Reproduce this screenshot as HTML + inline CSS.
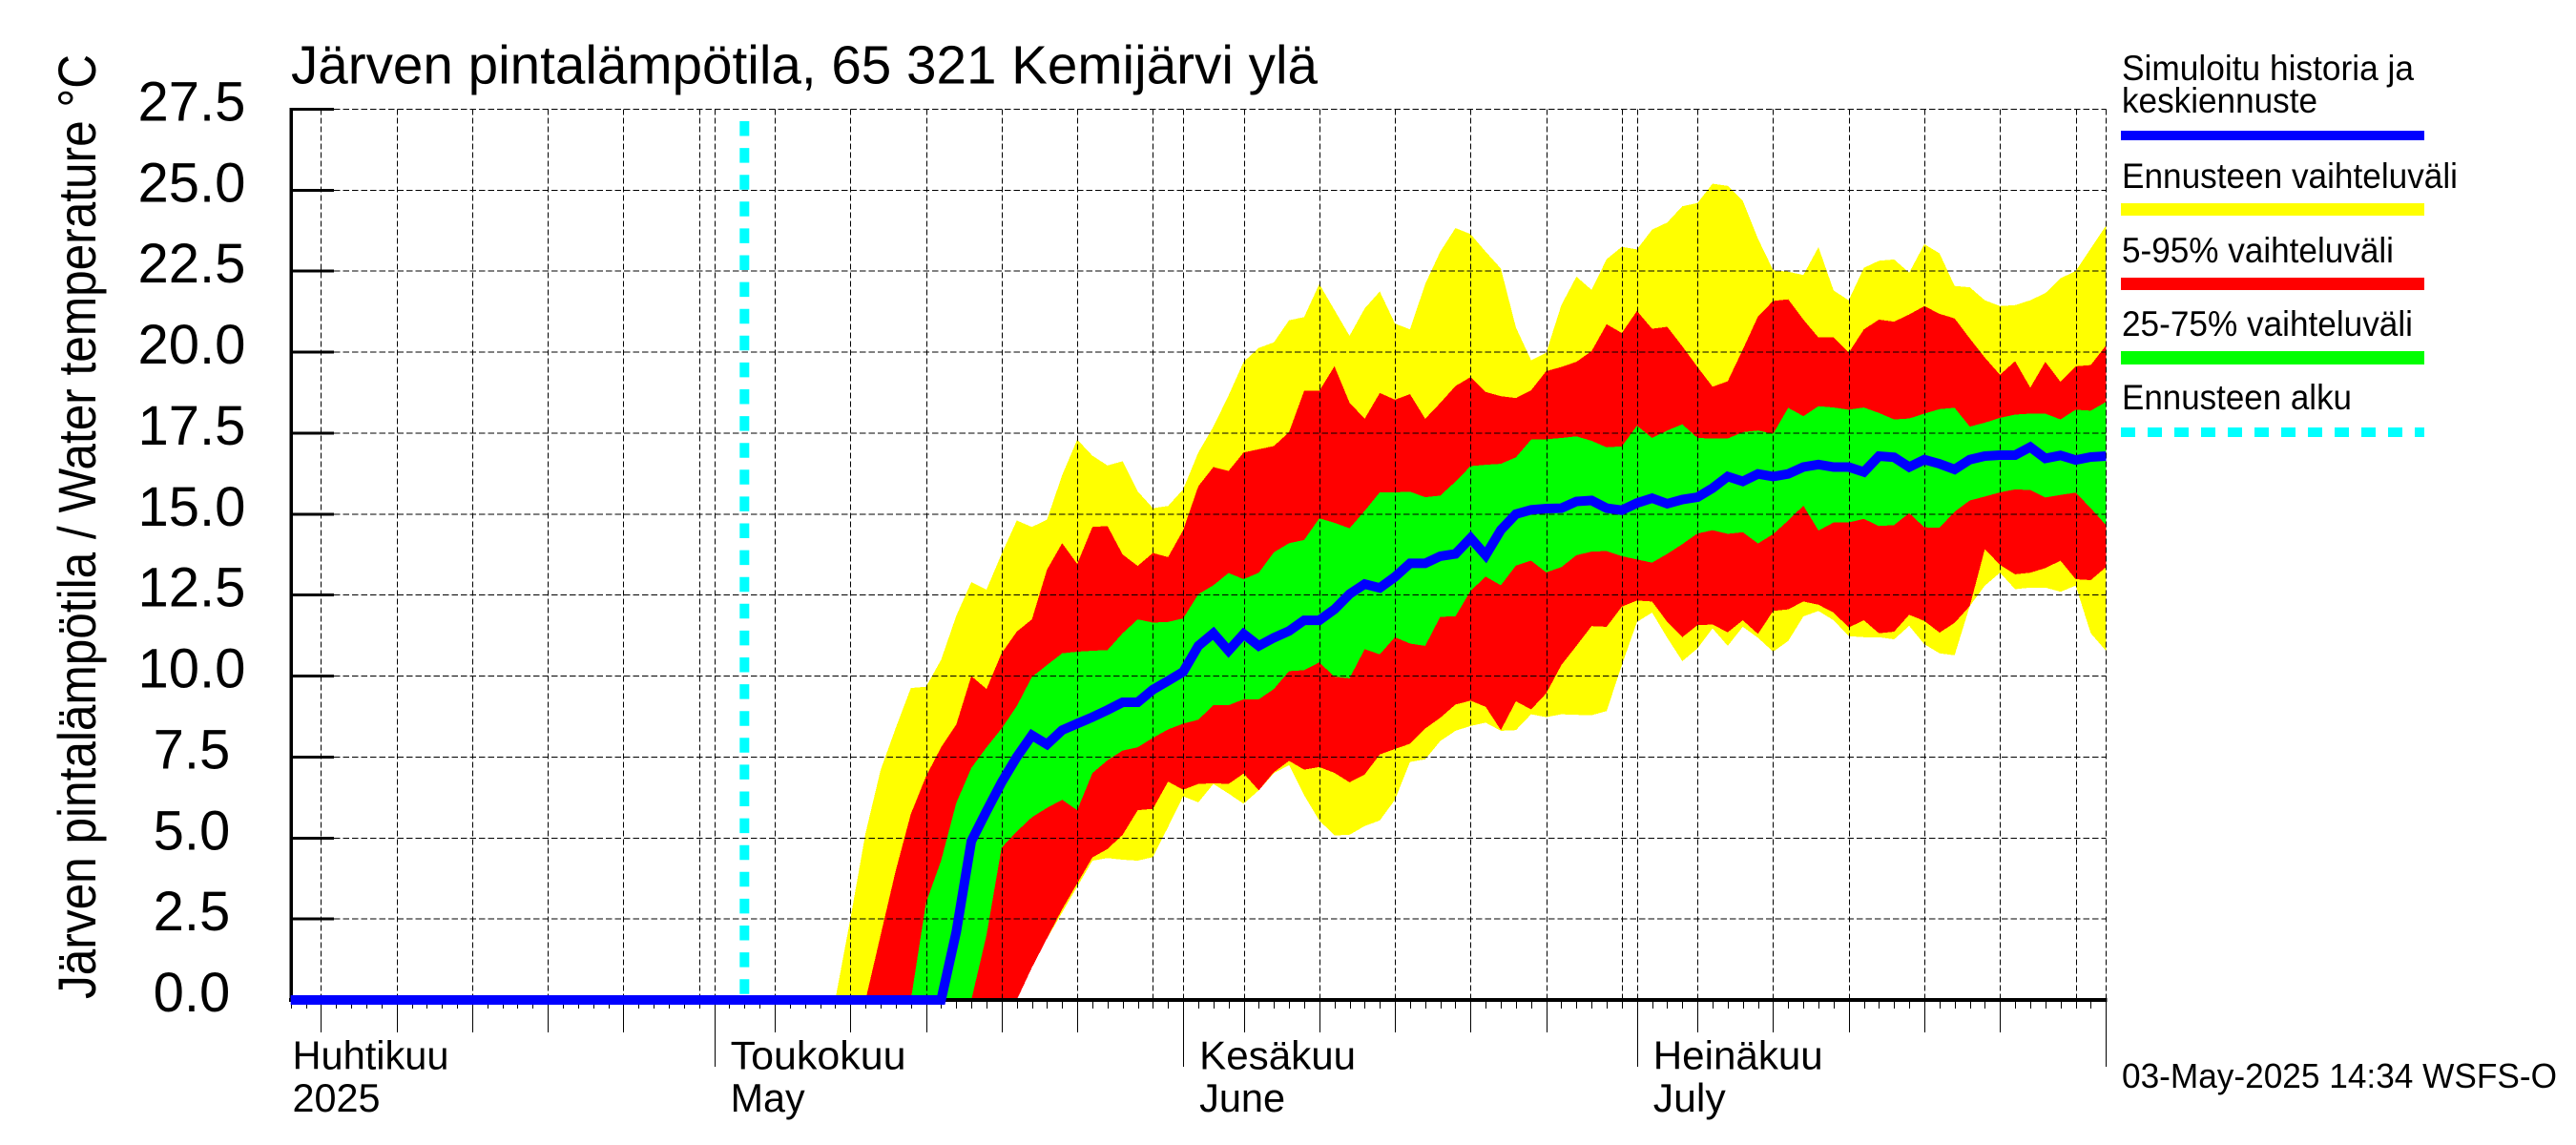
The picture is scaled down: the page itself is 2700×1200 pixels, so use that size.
<!DOCTYPE html>
<html lang="fi">
<head>
<meta charset="utf-8">
<title>Järven pintalämpötila, 65 321 Kemijärvi ylä</title>
<style>
html,body{margin:0;padding:0;background:#fff;width:2700px;height:1200px;overflow:hidden}
svg{display:block}
text{font-family:"Liberation Sans",sans-serif;fill:#000}
</style>
</head>
<body>
<svg id="chart" xmlns="http://www.w3.org/2000/svg" width="2700" height="1200" viewBox="0 0 2700 1200">
  <rect x="0" y="0" width="2700" height="1200" fill="#fff"/>
  <g id="bands" shape-rendering="crispEdges"></g>
  <g id="grid" shape-rendering="crispEdges"></g>
  <g id="axes" shape-rendering="crispEdges"></g>
  <g id="marks"></g>
  <g id="labels"></g>

  <text x="305" y="87.5" font-size="57" textLength="1076" lengthAdjust="spacingAndGlyphs">Järven pintalämpötila, 65 321 Kemijärvi ylä</text>
  <text transform="translate(100,1047) rotate(-90)" x="0" y="0" font-size="56" textLength="990" lengthAdjust="spacingAndGlyphs">Järven pintalämpötila / Water temperature °C</text>

  <g>
    <text x="2224" y="84" font-size="37" textLength="306" lengthAdjust="spacingAndGlyphs">Simuloitu historia ja</text>
    <text x="2224" y="118" font-size="37" textLength="205" lengthAdjust="spacingAndGlyphs">keskiennuste</text>
    <rect x="2223" y="137" width="318" height="10" fill="#0000ff"/>
    <text x="2224" y="197" font-size="37" textLength="352" lengthAdjust="spacingAndGlyphs">Ennusteen vaihteluväli</text>
    <rect x="2223" y="213" width="318" height="13" fill="#ffff00"/>
    <text x="2224" y="275" font-size="37" textLength="285" lengthAdjust="spacingAndGlyphs">5-95% vaihteluväli</text>
    <rect x="2223" y="291" width="318" height="13" fill="#ff0000"/>
    <text x="2224" y="352" font-size="37" textLength="305" lengthAdjust="spacingAndGlyphs">25-75% vaihteluväli</text>
    <rect x="2223" y="368" width="318" height="14" fill="#00ff00"/>
    <text x="2224" y="429" font-size="37" textLength="241" lengthAdjust="spacingAndGlyphs">Ennusteen alku</text>
    <line x1="2223" y1="453" x2="2541" y2="453" stroke="#00ffff" stroke-width="10" stroke-dasharray="15 13" shape-rendering="crispEdges"/>
  </g>

  <text x="2224" y="1140" font-size="36" textLength="456" lengthAdjust="spacingAndGlyphs">03-May-2025 14:34 WSFS-O</text>
</svg>
<script>
// Band and median values, daily from 9 May to 1 Aug 2025 (deg C)
const yellowUpper = [0,2.5,5.15,7.1,8.4,9.63,9.67,10.5,11.86,12.9,
12.67,13.77,14.8,14.6,14.83,16.2,17.3,16.8,16.5,16.63,
15.7,15.18,15.25,15.76,16.9,17.7,18.66,19.7,20.13,20.3,
20.98,21.08,22.1,21.3,20.5,21.35,21.87,20.88,20.7,22.1,
23.1,23.83,23.64,23.1,22.58,20.76,19.75,19.98,21.45,22.33,
21.92,22.87,23.25,23.17,23.78,24,24.5,24.6,25.2,25.13,
24.67,23.5,22.53,22.48,22.38,23.24,21.9,21.6,22.6,22.82,
22.86,22.45,23.33,23.05,22.04,22,21.6,21.42,21.45,21.6,
21.82,22.28,22.5,23.2,23.9];
const redUpper = [0,0,0,2,4,5.74,6.9,7.8,8.5,10,
9.6,10.7,11.37,11.75,13.28,14.1,13.46,14.6,14.63,13.75,
13.4,13.8,13.67,14.5,15.86,16.45,16.33,16.9,17,17.1,
17.53,18.8,18.8,19.56,18.44,17.94,18.74,18.53,18.7,17.94,
18.43,18.95,19.23,18.77,18.64,18.58,18.82,19.41,19.54,19.7,
20.03,20.86,20.59,21.27,20.72,20.78,20.18,19.54,18.93,19.1,
20.08,21.1,21.58,21.63,21,20.45,20.45,19.98,20.7,21,
20.94,21.16,21.42,21.18,21.04,20.42,19.83,19.3,19.72,18.9,
19.7,19.08,19.56,19.6,20.2];
const greenUpper = [0,0,0,0,0,0,3,4.3,6.08,7.16,
7.8,8.38,9.07,9.97,10.34,10.7,10.75,10.78,10.8,11.32,
11.75,11.65,11.67,11.78,12.52,12.8,13.18,12.99,13.19,13.82,
14.1,14.2,14.87,14.73,14.56,15.1,15.67,15.67,15.69,15.52,
15.57,16,16.48,16.52,16.55,16.75,17.3,17.31,17.35,17.4,
17.26,17.06,17.09,17.73,17.35,17.58,17.77,17.35,17.33,17.33,
17.53,17.58,17.48,18.28,18.02,18.33,18.29,18.22,18.29,18.12,
17.92,17.95,18.1,18.24,18.28,17.7,17.82,17.97,18.07,18.1,
18.1,17.92,18.22,18.19,18.46];
const medianValues = [0,0,0,0,0,0,0,0,2.1,4.9,
5.83,6.72,7.5,8.17,7.89,8.33,8.53,8.73,8.95,9.19,
9.19,9.58,9.85,10.13,10.93,11.32,10.78,11.3,10.93,11.18,
11.39,11.72,11.72,12.06,12.53,12.84,12.72,13.06,13.48,13.48,
13.7,13.77,14.26,13.73,14.51,15,15.13,15.17,15.18,15.39,
15.42,15.18,15.12,15.34,15.49,15.32,15.45,15.52,15.8,16.16,
16.01,16.24,16.16,16.24,16.45,16.53,16.45,16.45,16.3,16.79,
16.75,16.45,16.68,16.55,16.38,16.68,16.79,16.82,16.82,17.07,
16.72,16.81,16.67,16.76,16.79];
const greenLower = [0,0,0,0,0,0,0,0,0,0,
2,4.7,5.2,5.64,5.93,6.18,5.86,7,7.4,7.7,
7.8,8.09,8.35,8.53,8.65,9.1,9.1,9.28,9.28,9.6,
10.15,10.18,10.42,9.98,9.93,10.83,10.67,11.2,11,10.93,
11.83,11.84,12.63,13.07,12.8,13.41,13.56,13.2,13.36,13.73,
13.84,13.86,13.7,13.6,13.5,13.77,14.07,14.4,14.5,14.39,
14.44,14.09,14.38,14.8,15.26,14.49,14.74,14.74,14.85,14.63,
14.66,15.03,14.59,14.58,15.07,15.42,15.54,15.67,15.76,15.74,
15.51,15.59,15.66,15.18,14.66];
const redLower = [0,0,0,0,0,0,0,0,0,0,
0,0,0,1,1.9,2.8,3.6,4.4,4.66,5.1,
5.86,5.9,6.74,6.49,6.67,6.69,6.67,6.99,6.47,7.03,
7.38,7.11,7.19,7.01,6.72,6.96,7.58,7.75,7.91,8.38,
8.71,9.12,9.24,9.05,8.33,9.22,8.97,9.46,10.34,10.93,
11.54,11.52,12.14,12.33,12.3,11.67,11.2,11.57,11.59,11.35,
11.72,11.3,12.01,12.06,12.3,12.2,11.96,11.5,11.72,11.32,
11.37,11.89,11.7,11.34,11.64,12.16,13.92,13.43,13.14,13.19,
13.33,13.56,12.99,12.96,13.36];
const yellowLower = [0,0,0,0,0,0,0,0,0,0,
0,0,0,1,1.9,2.7,3.5,4.3,4.38,4.33,
4.3,4.41,5.34,6.29,6.1,6.67,6.37,6.06,6.47,7,
7.25,6.32,5.54,5.08,5.1,5.37,5.54,6.18,7.35,7.43,
7.99,8.31,8.46,8.56,8.31,8.33,8.82,8.73,8.82,8.8,
8.79,8.92,10.34,11.67,11.96,11.18,10.46,10.85,11.47,10.93,
11.52,11.18,10.75,11.08,11.84,12.01,11.72,11.23,11.2,11.2,
11.13,11.55,10.98,10.7,10.64,12.16,12.79,13.19,12.68,12.73,
12.73,12.6,12.79,11.32,10.78];
const yTickValues = [0,2.5,5,7.5,10,12.5,15,17.5,20,22.5,25,27.5];
const monthNames = ["Huhtikuu","Toukokuu","Kesäkuu","Heinäkuu"];
const monthNamesSecond = ["2025","May","June","July"];
const monthStartDates = ["2025-04-01","2025-05-01","2025-06-01","2025-07-01","2025-08-01"];
const axisStartDate = "2025-04-03";
const axisEndDate = "2025-08-01";
const firstBandDate = "2025-05-09";
const forecastStartDate = "2025-05-03";

const NS = "http://www.w3.org/2000/svg";
const DAY_MS = 86400000;
const dayNum = s => Date.parse(s + "T00:00:00Z") / DAY_MS;
const xScale = d => 304.66 + (d - dayNum(axisStartDate)) * 15.855;
const yScale = v => 1048 - v * 33.95;
const bandDay = i => dayNum(firstBandDate) + i;

function labelWidth(text) {
  const widths = {"Huhtikuu":164,"Toukokuu":184,"Kesäkuu":164,"Heinäkuu":178,"2025":92,"May":78,"June":90,"July":76};
  return widths[text];
}

function mk(tag, attrs, parent) {
  const el = document.createElementNS(NS, tag);
  for (const k in attrs) el.setAttribute(k, attrs[k]);
  parent.appendChild(el);
  return el;
}
const bands = document.getElementById("bands");
const grid = document.getElementById("grid");
const axes = document.getElementById("axes");
const marks = document.getElementById("marks");
const labels = document.getElementById("labels");

function bandPoints(upper, lower) {
  const pts = [];
  upper.forEach((v, i) => pts.push(xScale(bandDay(i)).toFixed(1) + "," + yScale(v).toFixed(1)));
  for (let i = lower.length - 1; i >= 0; i--) pts.push(xScale(bandDay(i)).toFixed(1) + "," + yScale(lower[i]).toFixed(1));
  return pts.join(" ");
}
const yellowBand = mk("polygon", {points: bandPoints(yellowUpper, yellowLower), fill: "#ffff00"}, bands);


const redBand = mk("polygon", {points: bandPoints(redUpper, redLower), fill: "#ff0000"}, bands);


const greenBand = mk("polygon", {points: bandPoints(greenUpper, greenLower), fill: "#00ff00"}, bands);



const startDay = dayNum(axisStartDate);
const endDay = dayNum(axisEndDate);
const topY = yScale(yTickValues[yTickValues.length - 1]);
const zeroY = yScale(0);

// Horizontal grid, y ticks and y tick labels
yTickValues.forEach(v => {
  const y = yScale(v);
  if (v > 0) {
    const g = mk("line", {x1: 350, x2: xScale(endDay), y1: y, y2: y, stroke: "#000", "stroke-width": 1, "stroke-dasharray": "6.5 3"}, grid);
    
    
    const t = mk("rect", {x: 304, y: y - 1.5, width: 46, height: 3, fill: "#000"}, axes);
    
    
  }
  const lab = mk("text", {x: 201, y: y + 12, "font-size": 58, "text-anchor": "middle"}, labels);
  lab.textContent = v.toFixed(1);
  
  
});

// Vertical grid and x ticks, one per day
for (let d = startDay; d <= endDay; d++) {
  const date = new Date(d * DAY_MS);
  const dom = date.getUTCDate();
  const x = Math.round(xScale(d)) + 0.5;
  const isMonth = dom === 1;
  const isFive = dom % 5 === 0;
  const isLong = isFive && dom !== 30;
  if (isMonth || isFive) {
    const g = mk("line", {x1: x, x2: x, y1: topY, y2: zeroY, stroke: "#000", "stroke-width": 1, "stroke-dasharray": "6 3"}, grid);
    
    
  }
  const bottom = isMonth ? 1118 : (isLong ? 1082 : 1057);
  const tk = mk("line", {x1: x, x2: x, y1: zeroY, y2: bottom, stroke: "#000", "stroke-width": 1}, axes);
  
  
}

// Axis lines
const yAxisLine = mk("rect", {x: 303.5, y: topY - 1.5, width: 3.5, height: zeroY - topY + 3, fill: "#000"}, axes);


const xAxisLine = mk("rect", {x: 303, y: zeroY - 2, width: xScale(endDay) - 303 + 1, height: 4, fill: "#000"}, axes);



// Month labels
monthNames.forEach((name, i) => {
  const left = i === 0 ? 306.5 : xScale(dayNum(monthStartDates[i])) + 17;
  const a = mk("text", {x: left, y: 1120.5, "font-size": 42, textLength: labelWidth(name), lengthAdjust: "spacingAndGlyphs"}, labels);
  a.textContent = name;
  
  
  const sub = monthNamesSecond[i];
  const b = mk("text", {x: left, y: 1165, "font-size": 42, textLength: labelWidth(sub), lengthAdjust: "spacingAndGlyphs"}, labels);
  b.textContent = sub;
  
  
});

// Forecast start marker
const fx = xScale(dayNum(forecastStartDate));
const forecastLine = mk("line", {x1: fx, x2: fx, y1: 127, y2: zeroY, stroke: "#00ffff", "stroke-width": 10, "stroke-dasharray": "15.5 12.6"}, marks);



// Median / simulated history line, flat at the first value back to the axis start
const linePts = [xScale(startDay).toFixed(1) + "," + yScale(medianValues[0]).toFixed(1)];
medianValues.forEach((v, i) => linePts.push(xScale(bandDay(i)).toFixed(1) + "," + yScale(v).toFixed(1)));
const medianLine = mk("polyline", {points: linePts.join(" "), fill: "none", stroke: "#0000ff", "stroke-width": 10, "stroke-linejoin": "miter", "stroke-miterlimit": 4}, marks);


</script>
</body>
</html>
